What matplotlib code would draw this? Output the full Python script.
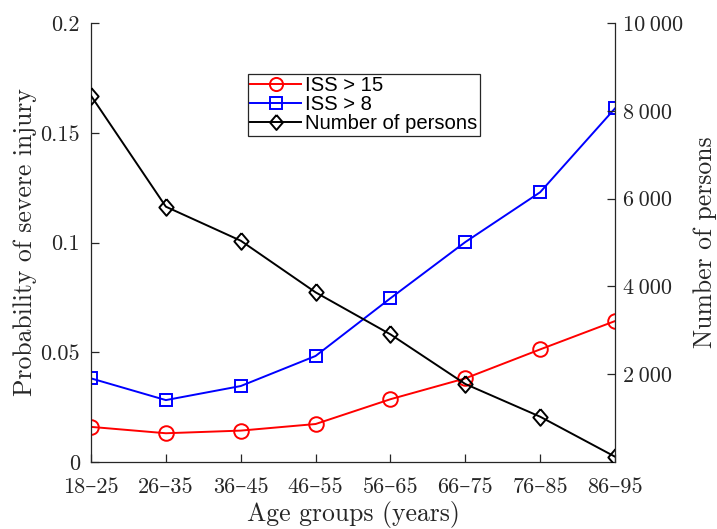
import matplotlib
matplotlib.use("Agg")
import matplotlib.pyplot as plt
import numpy as np

plt.rcParams['font.family'] = ['cmr10', 'DejaVu Serif']
plt.rcParams['axes.formatter.use_mathtext'] = True

groups = ['18–25', '26–35', '36–45', '46–55', '56–65', '66–75', '76–85', '86–95']
iss15 = [0.0160, 0.0131, 0.0143, 0.0173, 0.0286, 0.0381, 0.0513, 0.0642]
iss8 = [0.0381, 0.0282, 0.0346, 0.0483, 0.0746, 0.1002, 0.1229, 0.1611]
persons = [8344, 5816, 5041, 3865, 2908, 1777, 1032, 121]

left_ticks = [0, 0.05, 0.1, 0.15, 0.2]
left_labels = ['0', '0.05', '0.1', '0.15', '0.2']
right_ticks = [2000, 4000, 6000, 8000, 10000]
right_labels = ['2\u2009000', '4\u2009000', '6\u2009000', '8\u2009000', '10\u2009000']

grey = (0.15, 0.15, 0.15)
x = np.arange(len(groups))
# MATLAB-like diamond (a bit narrower than tall)
diamond = [(0, 1), (0.86, 0), (0, -1), (-0.86, 0), (0, 1)]

fig = plt.figure(figsize=(7.17, 5.29), dpi=100)
ax = fig.add_axes([91/717, 67/529, 524/717, 439/529])
ax2 = ax.twinx()

l1, = ax.plot(x, iss15, color='red', lw=1.4, marker='o', ms=10.5, mfc='none', mew=1.4, label='ISS > 15')
l2, = ax.plot(x, iss8, color='blue', lw=1.4, marker='s', ms=9, mfc='none', mew=1.4, label='ISS > 8')
l3, = ax2.plot(x, persons, color='black', lw=1.4, marker=diamond, ms=12, mfc='none', mew=1.4, label='Number of persons')

ax.set_xlim(0, len(groups) - 1)
ax.set_ylim(0, 0.2)
ax2.set_ylim(0, 10000)
ax.set_xticks(x)
ax.set_xticklabels(groups)
ax.set_yticks(left_ticks)
ax.set_yticklabels(left_labels)
ax2.set_yticks(right_ticks)
ax2.set_yticklabels(right_labels)

for a in (ax, ax2):
    a.tick_params(direction='in', length=6, width=0.9, colors=grey, labelsize=16, labelcolor=grey)
    a.spines['top'].set_visible(False)
    for s in a.spines.values():
        s.set_color(grey)
        s.set_linewidth(0.9)
ax.tick_params(axis='x', pad=11)
ax.tick_params(axis='y', pad=8)
ax2.tick_params(axis='y', pad=6)
ax.spines['right'].set_visible(False)
ax2.spines['left'].set_visible(False)
ax2.spines['bottom'].set_visible(False)

ax.set_xlabel('Age groups (years)', fontsize=18.5, color=grey, labelpad=3)
ax.set_ylabel('Probability of severe injury', fontsize=18.5, color=grey, labelpad=2)
ax2.set_ylabel('Number of persons', fontsize=18.5, color=grey, labelpad=7)

leg = ax2.legend(handles=[l1, l2, l3], loc='upper left', bbox_to_anchor=(157/524, 388/439),
                 prop={'family': 'Liberation Sans', 'size': 14.6}, frameon=True, fancybox=False,
                 borderpad=0.12, labelspacing=0.0, handlelength=2.5, handletextpad=0.2,
                 borderaxespad=0, markerscale=0.9)
leg.get_frame().set_edgecolor(grey)
leg.get_frame().set_linewidth(0.9)
leg.get_frame().set_alpha(1)

fig.savefig('out.png', dpi=100)
